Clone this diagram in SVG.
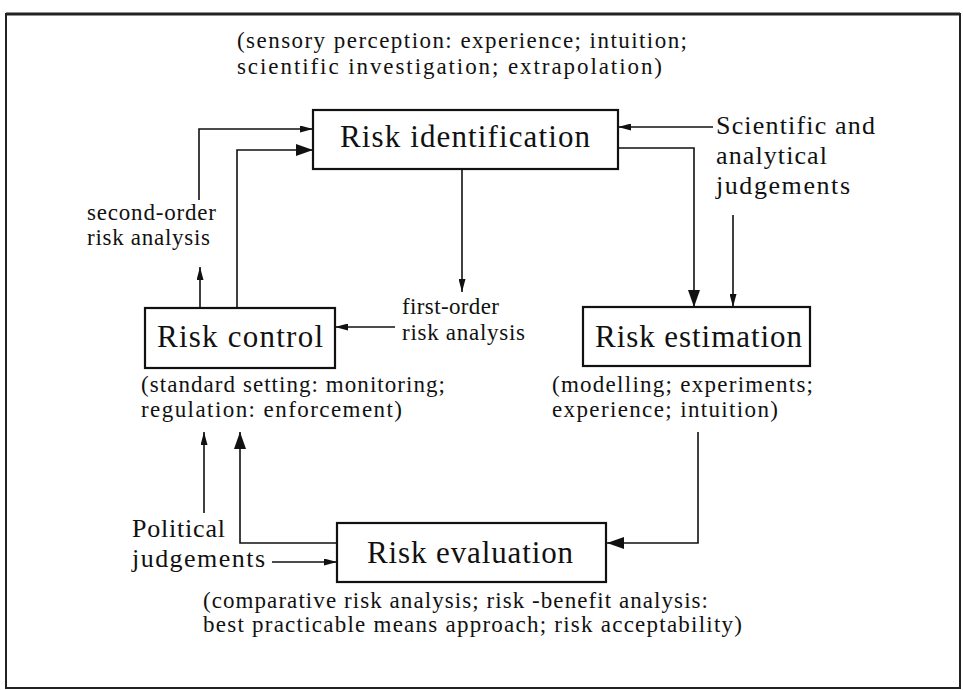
<svg xmlns="http://www.w3.org/2000/svg" width="963" height="690" viewBox="0 0 963 690">
  <style>
    text { font-family: "Liberation Serif", "Times New Roman", serif; fill: #111; }
    .title { font-size: 31px; }
    .side { font-size: 26px; }
    .note { font-size: 23px; }
    .box { fill: #fff; stroke: #111; stroke-width: 2.2; }
    .frame { fill: none; stroke: #222; stroke-width: 2; }
    .wire { fill: none; stroke: #111; stroke-width: 1.6; }
  </style>
  <defs>
    <marker id="arrowSmall" viewBox="0 0 13 7" refX="13" refY="3.5" markerWidth="13" markerHeight="7" markerUnits="userSpaceOnUse" orient="auto">
      <path d="M0,0 L13,3.5 L0,7 z" fill="#111"/>
    </marker>
    <marker id="arrowLarge" viewBox="0 0 17 12" refX="17" refY="6" markerWidth="17" markerHeight="12" markerUnits="userSpaceOnUse" orient="auto">
      <path d="M0,0 L17,6 L0,12 z" fill="#111"/>
    </marker>
  </defs>

  <!-- outer frame -->
  <rect class="frame" x="6" y="14" width="954" height="674"/>
  <line x1="6" y1="14" x2="960" y2="14" stroke="#222" stroke-width="3"/>

  <!-- connectors -->
  <g id="connectors">
    <path class="wire" d="M199,200 V129 H313" marker-end="url(#arrowSmall)"/>
    <path class="wire" d="M200,308 V267" marker-end="url(#arrowSmall)"/>
    <path class="wire" d="M237,308 V150 H313" marker-end="url(#arrowLarge)"/>
    <path class="wire" d="M462,169 V292" marker-end="url(#arrowSmall)"/>
    <path class="wire" d="M395,327 H335" marker-end="url(#arrowSmall)"/>
    <path class="wire" d="M713,127 H618" marker-end="url(#arrowSmall)"/>
    <path class="wire" d="M618,148 H694 V307" marker-end="url(#arrowLarge)"/>
    <path class="wire" d="M733,215 V307" marker-end="url(#arrowSmall)"/>
    <path class="wire" d="M698,432 V543 H607" marker-end="url(#arrowLarge)"/>
    <path class="wire" d="M337,543 H240 V432" marker-end="url(#arrowLarge)"/>
    <path class="wire" d="M204,513 V432" marker-end="url(#arrowSmall)"/>
    <path class="wire" d="M272,562 H337" marker-end="url(#arrowSmall)"/>
  </g>

  <!-- Risk identification -->
  <g id="risk-identification">
    <text class="note" x="237" y="48" textLength="450" lengthAdjust="spacing">(sensory perception: experience; intuition;</text>
    <text class="note" x="237" y="74" textLength="425" lengthAdjust="spacing">scientific investigation; extrapolation)</text>
    <rect class="box" x="313" y="110" width="305" height="59"/>
    <text class="title" x="340" y="147" textLength="250" lengthAdjust="spacing">Risk identification</text>
  </g>

  <!-- Risk estimation -->
  <g id="risk-estimation">
    <rect class="box" x="583" y="307" width="227" height="59"/>
    <text class="title" x="595" y="347" textLength="207" lengthAdjust="spacing">Risk estimation</text>
    <text class="note" x="552" y="392" textLength="261" lengthAdjust="spacing">(modelling; experiments;</text>
    <text class="note" x="552" y="417" textLength="226" lengthAdjust="spacing">experience; intuition)</text>
  </g>

  <!-- Risk control -->
  <g id="risk-control">
    <rect class="box" x="145" y="308" width="190" height="60"/>
    <text class="title" x="157" y="347" textLength="166" lengthAdjust="spacing">Risk control</text>
    <text class="note" x="141" y="392" textLength="304" lengthAdjust="spacing">(standard setting: monitoring;</text>
    <text class="note" x="141" y="417" textLength="261" lengthAdjust="spacing">regulation: enforcement)</text>
  </g>

  <!-- Risk evaluation -->
  <g id="risk-evaluation">
    <rect class="box" x="337" y="523" width="269" height="59"/>
    <text class="title" x="367" y="563" textLength="206" lengthAdjust="spacing">Risk evaluation</text>
    <text class="note" x="203" y="608" textLength="505" lengthAdjust="spacing">(comparative risk analysis; risk -benefit analysis:</text>
    <text class="note" x="203" y="632" textLength="539" lengthAdjust="spacing">best practicable means approach; risk acceptability)</text>
  </g>

  <!-- input labels -->
  <g id="scientific-judgements">
    <text class="side" x="716" y="134" textLength="159" lengthAdjust="spacing">Scientific and</text>
    <text class="side" x="716" y="164" textLength="111" lengthAdjust="spacing">analytical</text>
    <text class="side" x="716" y="194" textLength="134" lengthAdjust="spacing">judgements</text>
  </g>
  <g id="political-judgements">
    <text class="side" x="132" y="537" textLength="93" lengthAdjust="spacing">Political</text>
    <text class="side" x="132" y="567" textLength="133" lengthAdjust="spacing">judgements</text>
  </g>
  <g id="second-order">
    <text class="note" x="87" y="220" textLength="129" lengthAdjust="spacing">second-order</text>
    <text class="note" x="87" y="245" textLength="123" lengthAdjust="spacing">risk analysis</text>
  </g>
  <g id="first-order">
    <text class="note" x="402" y="314" textLength="97" lengthAdjust="spacing">first-order</text>
    <text class="note" x="402" y="340" textLength="123" lengthAdjust="spacing">risk analysis</text>
  </g>
</svg>
